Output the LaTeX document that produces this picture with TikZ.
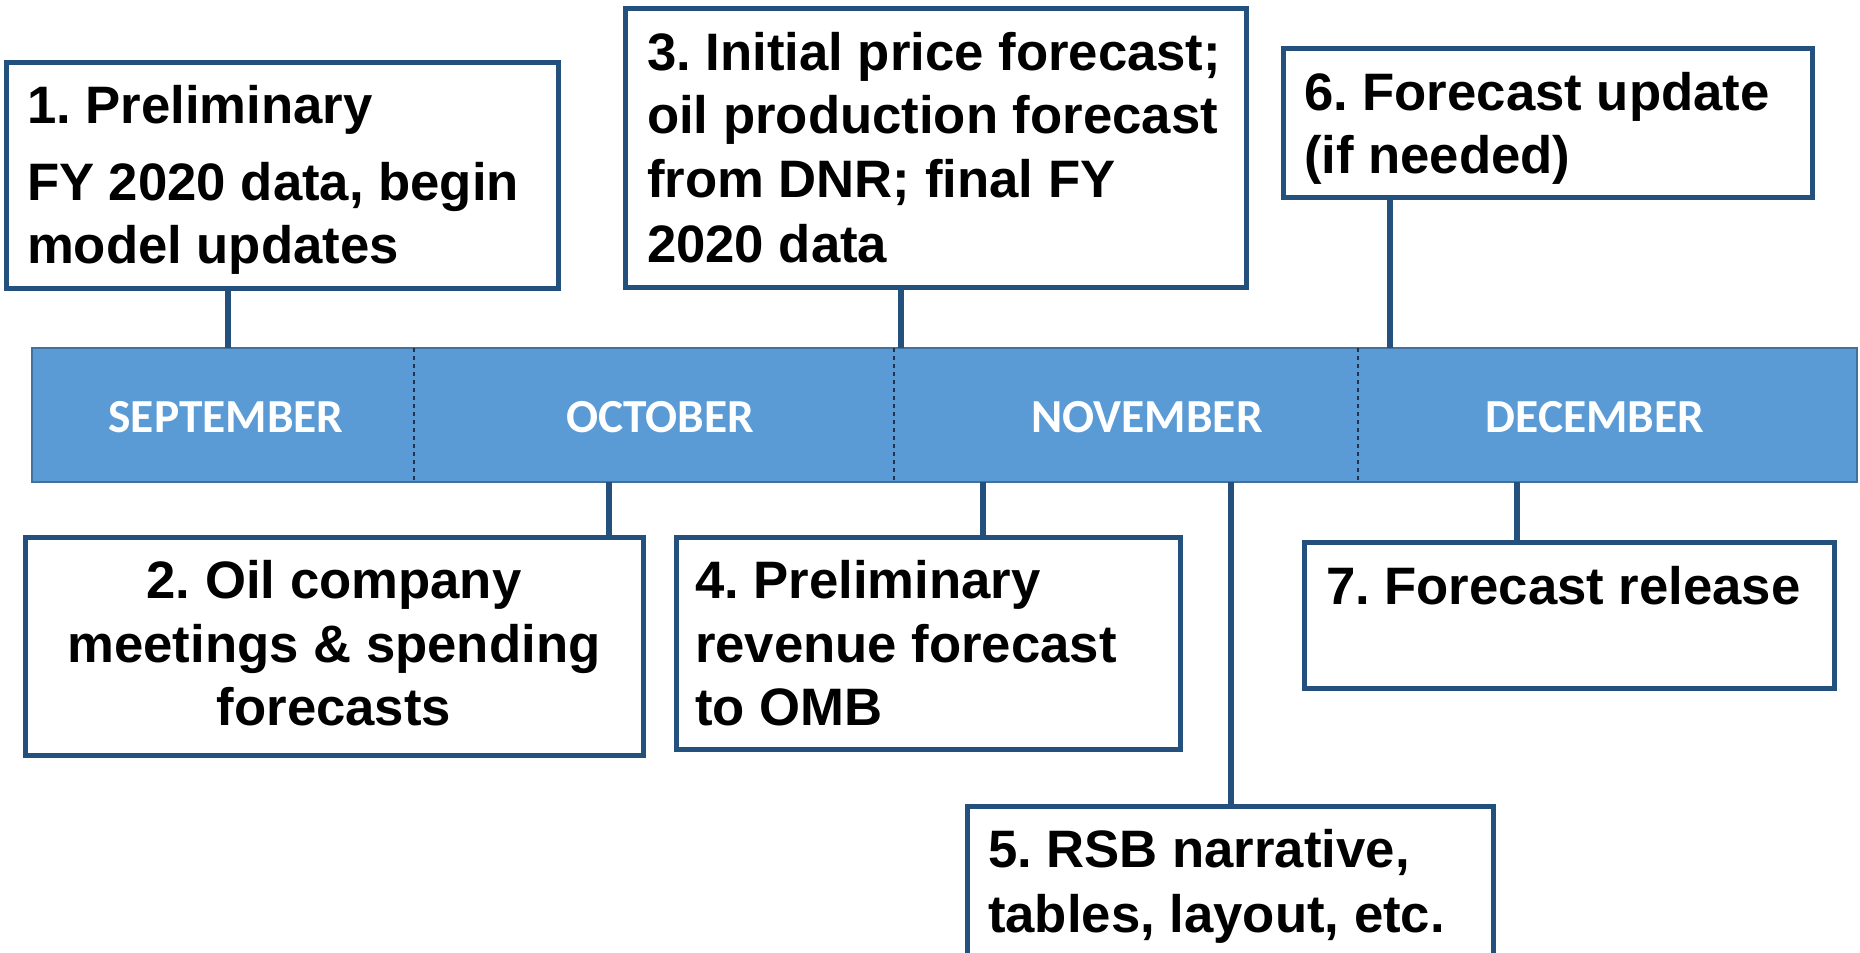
\documentclass[tikz,border=0pt]{standalone}
\usepackage{fontspec}
\setmainfont{Liberation Sans}
\newfontfamily\monthfont{Carlito}
\frenchspacing
\definecolor{boxblue}{HTML}{24507E}
\definecolor{barfill}{HTML}{5B9BD5}
\definecolor{barline}{HTML}{41719C}
\definecolor{divcol}{HTML}{1F3350}
\tikzset{
  box/.style={draw=boxblue, line width=2.5pt, fill=white, inner sep=0pt, outer sep=0pt, anchor=north west},
  barbox/.style={draw=barline, line width=1.2pt, fill=barfill, inner sep=0pt, outer sep=0pt, anchor=north west},
  txt/.style={inner sep=0pt, outer sep=0pt, font=\bfseries\fontsize{26.35pt}{31.5pt}\selectfont, text=black},
  month/.style={inner sep=0pt, outer sep=0pt, anchor=base, text=white, font=\monthfont\bfseries\fontsize{23.7pt}{28pt}\selectfont},
  conn/.style={draw=boxblue, line width=3.3pt},
  divider/.style={draw=divcol, line width=0.6pt, dash pattern=on 2.2pt off 1.8pt}
}
\begin{document}
\begin{tikzpicture}[x=0.5pt,y=-0.5pt]
\useasboundingbox (0,0) rectangle (1860,953);

% timeline bar
\node[barbox, minimum width={1825*0.5pt}, minimum height={134*0.5pt}] (bar) at (32,348) {};
\coordinate (d1) at (414,0);
\coordinate (d2) at (894,0);
\coordinate (d3) at (1358,0);
\draw[divider] (bar.north -| d1) -- (bar.south -| d1);
\draw[divider] (bar.north -| d2) -- (bar.south -| d2);
\draw[divider] (bar.north -| d3) -- (bar.south -| d3);
\node[month] (sep) at (226,432) {SEPTEMBER};
\node[month] (oct) at (660,432) {OCTOBER};
\node[month] (nov) at (1147,432) {NOVEMBER};
\node[month] (dec) at (1595,432) {DECEMBER};

% boxes
\node[box, minimum width={552*0.5pt}, minimum height={226*0.5pt}] (b1) at (6,62) {};
\node[box, minimum width={621*0.5pt}, minimum height={279*0.5pt}] (b3) at (625,8) {};
\node[box, minimum width={529*0.5pt}, minimum height={149*0.5pt}] (b6) at (1283,48) {};
\node[box, minimum width={618*0.5pt}, minimum height={218*0.5pt}] (b2) at (25,537) {};
\node[box, minimum width={504*0.5pt}, minimum height={212*0.5pt}] (b4) at (676,537) {};
\node[box, minimum width={526*0.5pt}, minimum height={156*0.5pt}] (b5) at (967,806) {};
\node[box, minimum width={530*0.5pt}, minimum height={146*0.5pt}] (b7) at (1304,542) {};

% connectors
\coordinate (k1) at (228,0);
\coordinate (k2) at (609,0);
\coordinate (k3) at (901,0);
\coordinate (k4) at (983,0);
\coordinate (k5) at (1231,0);
\coordinate (k6) at (1390,0);
\coordinate (k7) at (1517,0);
\draw[conn] (b1.south -| k1) -- (bar.north -| k1);
\draw[conn] (b3.south -| k3) -- (bar.north -| k3);
\draw[conn] (b6.south -| k6) -- (bar.north -| k6);
\draw[conn] (bar.south -| k2) -- (b2.north -| k2);
\draw[conn] (bar.south -| k4) -- (b4.north -| k4);
\draw[conn] (bar.south -| k5) -- (b5.north -| k5);
\draw[conn] (bar.south -| k7) -- (b7.north -| k7);

% texts
\node[txt, anchor=base west] (t1a) at (27,123) {1. Preliminary};
\node[txt, anchor=base west] (t1b) at (27,200) {FY 2020 data, begin};
\node[txt, anchor=base west] (t1c) at (27,263) {model updates};

\node[txt, anchor=base west] (t3a) at (647,70) {3. Initial price forecast;};
\node[txt, anchor=base west] (t3b) at (647,133) {oil production forecast};
\node[txt, anchor=base west] (t3c) at (647,197) {from DNR; final FY};
\node[txt, anchor=base west] (t3d) at (647,262) {2020 data};

\node[txt, anchor=base west] (t6a) at (1304,110) {6. Forecast update};
\node[txt, anchor=base west] (t6b) at (1304,173) {(if needed)};

\node[txt, anchor=base] (t2a) at (334,598) {2. Oil company};
\node[txt, anchor=base] (t2b) at (334,662) {meetings \& spending};
\node[txt, anchor=base] (t2c) at (334,725) {forecasts};

\node[txt, anchor=base west] (t4a) at (695,598) {4. Preliminary};
\node[txt, anchor=base west] (t4b) at (695,662) {revenue forecast};
\node[txt, anchor=base west] (t4c) at (695,725) {to OMB};

\node[txt, anchor=base west] (t5a) at (988,867) {5. RSB narrative,};
\node[txt, anchor=base west] (t5b) at (988,932) {tables, layout, etc.};

\node[txt, anchor=base west] (t7a) at (1326,604) {7. Forecast release};
\end{tikzpicture}
\end{document}
